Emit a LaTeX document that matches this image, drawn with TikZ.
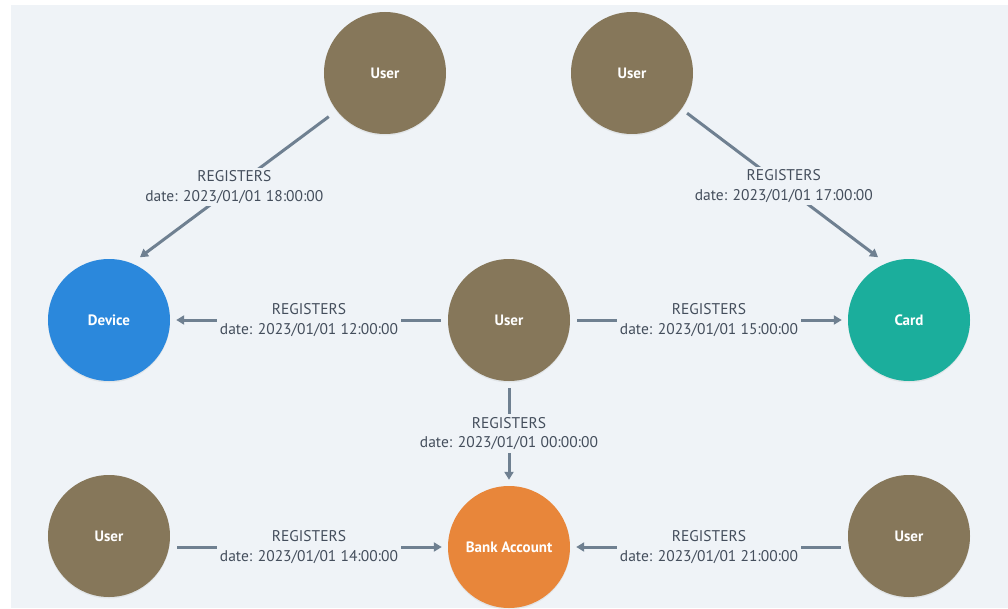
\documentclass[tikz,border=0pt]{standalone}
\usepackage{fontspec}
\setmainfont{PT Sans}
\usetikzlibrary{arrows.meta, positioning, shadows}

\definecolor{bg}{HTML}{EFF3F7}
\definecolor{usercol}{HTML}{86775A}
\definecolor{devicecol}{HTML}{2B88DC}
\definecolor{cardcol}{HTML}{1BAE9C}
\definecolor{bankcol}{HTML}{E8863A}
\definecolor{edgecol}{HTML}{6F8091}
\definecolor{labelcol}{HTML}{444E5C}

\begin{document}
\begin{tikzpicture}[
  on grid,
  every node/.style={font=\fontsize{15.5}{19.5}\selectfont},
  ent/.style={circle, minimum size=122pt, inner sep=0pt, text=white, font=\fontsize{15}{18}\selectfont\bfseries, drop shadow={opacity=0.12, shadow xshift=0pt, shadow yshift=-1.5pt}},
  user/.style={ent, fill=usercol},
  device/.style={ent, fill=devicecol},
  card/.style={ent, fill=cardcol},
  bank/.style={ent, fill=bankcol},
  rel/.style={fill=bg, text=labelcol, align=center, inner sep=3pt},
  arr/.style={-{Triangle[length=8pt, width=9pt]}, line width=3pt, draw=edgecol, shorten <=7pt, shorten >=6pt},
]
% Canvas
\useasboundingbox (-509pt,320pt) rectangle (499pt,-288pt);
\fill[white] (-509pt,320pt) rectangle (499pt,-288pt);
\fill[bg] (-498pt,315pt) rectangle (499pt,-288pt);

% Nodes
\node[user] (u0) {User};
\node[device, left=400pt of u0] (dev) {Device};
\node[card, right=400pt of u0] (card) {Card};
\node[bank, below=227pt of u0] (acct) {Bank Account};
\node[user, above left=247pt and 124pt of u0] (u1) {User};
\node[user, above right=247pt and 123pt of u0] (u2) {User};
\node[user, below left=216pt and 400pt of u0] (u3) {User};
\node[user, below right=216pt and 400pt of u0] (u4) {User};

% Edges - top
\draw[arr, shorten <=10pt, shorten >=10pt] (u1.218) -- node[rel] {REGISTERS\\date: 2023/01/01 18:00:00} (dev.68);
\draw[arr, shorten <=7pt, shorten >=10pt] (u2.-36) -- node[rel] {REGISTERS\\date: 2023/01/01 17:00:00} (card.112);

% Edges - middle
\draw[arr] (u0) -- node[rel] {REGISTERS\\date: 2023/01/01 12:00:00} (dev);
\draw[arr] (u0) -- node[rel] {REGISTERS\\date: 2023/01/01 15:00:00} (card);
\draw[arr] (u0) -- node[rel] {REGISTERS\\date: 2023/01/01 00:00:00} (acct);

% Edges - bottom
\draw[arr] (u3.east |- acct.west) -- node[rel] {REGISTERS\\date: 2023/01/01 14:00:00} (acct.west);
\draw[arr] (u4.west |- acct.east) -- node[rel] {REGISTERS\\date: 2023/01/01 21:00:00} (acct.east);
\end{tikzpicture}
\end{document}
